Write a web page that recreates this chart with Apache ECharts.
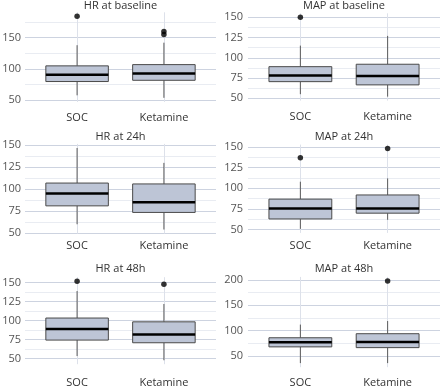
<!DOCTYPE html>
<html>
<head>
<meta charset="utf-8">
<script src="https://cdn.jsdelivr.net/npm/echarts@6/dist/echarts.min.js"></script>
<style>
  html, body { margin: 0; padding: 0; background: #fff; }
  #chart { width: 440px; height: 388px; }
</style>
</head>
<body>
<div id="chart"></div>
<script>
const categories = ['SOC', 'Ketamine']
const panelTitles = ['HR at baseline', 'MAP at baseline', 'HR at 24h', 'MAP at 24h', 'HR at 48h', 'MAP at 48h']

// box values per group: [lower whisker, Q1, median, Q3, upper whisker]
const hrBaselineBox = [[58, 80, 91, 105, 138], [54, 82, 93, 107, 142]]
const mapBaselineBox = [[55, 70.5, 78, 89, 115], [52, 66.5, 77.5, 92, 127]]
const hr24Box = [[60, 81, 95, 107, 147], [54, 73.5, 85, 106, 130]]
const map24Box = [[51, 63, 75.5, 87, 108], [62, 70, 75.5, 92, 112]]
const hr48Box = [[53.5, 74.5, 89, 103.5, 139], [48, 71, 82, 98.5, 122]]
const map48Box = [[36, 68, 77, 86, 112], [36, 66.5, 77.5, 94, 119]]

// outliers: [group index, value]
const hrBaselineOut = [[0, 184], [1, 160], [1, 155]]
const mapBaselineOut = [[0, 150]]
const hr24Out = []
const map24Out = [[0, 137], [1, 148]]
const hr48Out = [[0, 152], [1, 148]]
const map48Out = [[1, 198]]

// y tick labels (major) and minor grid values
const hrBaselineTicks = [50, 100, 150]
const hrBaselineMinor = [75, 125, 175]
const quarterTicks = [50, 75, 100, 125, 150]
const quarterMinor = [62.5, 87.5, 112.5, 137.5]
const map48Ticks = [50, 100, 150, 200]
const map48Minor = [75, 125, 175]

// y ranges (data extent + 5%)
const yRanges = [[47.5, 190.5], [47.1, 154.9], [49.35, 151.65], [46.15, 152.85], [42.8, 157.2], [27.9, 206.1]]

const boxes = [hrBaselineBox, mapBaselineBox, hr24Box, map24Box, hr48Box, map48Box]
const outliers = [hrBaselineOut, mapBaselineOut, hr24Out, map24Out, hr48Out, map48Out]
const majorTicks = [hrBaselineTicks, quarterTicks, quarterTicks, quarterTicks, quarterTicks, map48Ticks]
const minorTicks = [hrBaselineMinor, quarterMinor, quarterMinor, quarterMinor, quarterMinor, map48Minor]

// panel rects [left, top, width, height] and label offsets
const rects = [
  [25, 12.3, 191, 89.6], [248, 13.3, 192, 87.3],
  [25, 143.9, 191, 89.7], [248, 144.6, 192, 88.3],
  [25, 277.2, 191, 87], [248, 276.9, 192, 90.3]
]
const xLabelMargins = [10, 11, 6.7, 7.5, 13.5, 10.5]
const yLabelMargins = [4, 5, 4, 5, 4, 5]
const titleTops = [0, 0, 131, 131, 263, 263]

const FONT = '"Open Sans", "Liberation Sans", Arial, sans-serif'

const chart = echarts.init(document.getElementById('chart'), null, { renderer: 'canvas' })

const grid = []
const xAxis = []
const yAxis = []
const series = []
const title = []

rects.forEach((r, i) => {
  grid.push({ left: r[0], top: r[1], width: r[2], height: r[3], containLabel: false, outerBoundsMode: 'none' })
  title.push({
    text: panelTitles[i],
    left: r[0] + r[2] / 2,
    top: titleTops[i],
    textAlign: 'center',
    padding: 0,
    textStyle: { fontSize: 11, fontWeight: 'normal', color: '#333', fontFamily: FONT }
  })
  xAxis.push({
    type: 'value',
    gridIndex: i,
    min: -0.6,
    max: 1.6,
    axisLine: { show: false },
    axisTick: { show: false, customValues: [0, 1] },
    axisLabel: {
      customValues: [0, 1],
      formatter: v => categories[Math.round(v)],
      margin: xLabelMargins[i],
      fontSize: 11,
      color: '#333',
      fontFamily: FONT
    },
    splitLine: { show: true, lineStyle: { color: '#dde1ea', width: 1 } }
  })
  yAxis.push({
    type: 'value',
    gridIndex: i,
    min: yRanges[i][0],
    max: yRanges[i][1],
    axisLine: { show: false },
    axisTick: { show: false, customValues: majorTicks[i] },
    axisLabel: {
      customValues: majorTicks[i],
      margin: yLabelMargins[i],
      fontSize: 11,
      color: '#555',
      fontFamily: FONT
    },
    splitLine: { show: true, lineStyle: { color: '#cdd3e0', width: 1 } }
  })
  yAxis.push({
    type: 'value',
    gridIndex: i,
    min: yRanges[i][0],
    max: yRanges[i][1],
    axisLine: { show: false },
    axisTick: { show: false, customValues: minorTicks[i] },
    axisLabel: { show: false },
    splitLine: { show: true, lineStyle: { color: '#e9ecf2', width: 1 } }
  })
  series.push({
    type: 'custom',
    xAxisIndex: i,
    yAxisIndex: 2 * i,
    data: boxes[i].map((b, j) => [j].concat(b)),
    encode: { x: 0, y: [1, 2, 3, 4, 5] },
    z: 3,
    renderItem(params, api) {
      const x = api.value(0)
      const pMin = api.coord([x, api.value(1)])
      const pQ1 = api.coord([x, api.value(2)])
      const pMed = api.coord([x, api.value(3)])
      const pQ3 = api.coord([x, api.value(4)])
      const pMax = api.coord([x, api.value(5)])
      const half = api.size([0.72, 0])[0] / 2
      const whisker = { stroke: '#5a5a5a', lineWidth: 1 }
      return {
        type: 'group',
        children: [
          { type: 'line', shape: { x1: pMin[0], y1: pMin[1], x2: pQ1[0], y2: pQ1[1] }, style: whisker },
          { type: 'line', shape: { x1: pQ3[0], y1: pQ3[1], x2: pMax[0], y2: pMax[1] }, style: whisker },
          {
            type: 'rect',
            shape: { x: pQ3[0] - half, y: pQ3[1], width: half * 2, height: pQ1[1] - pQ3[1] },
            style: { fill: '#bdc5d6', stroke: '#4a4a4a', lineWidth: 1 }
          },
          {
            type: 'line',
            shape: { x1: pMed[0] - half, y1: pMed[1], x2: pMed[0] + half, y2: pMed[1] },
            style: { stroke: '#000', lineWidth: 2.5 }
          }
        ]
      }
    }
  })
  series.push({
    type: 'scatter',
    xAxisIndex: i,
    yAxisIndex: 2 * i,
    data: outliers[i],
    symbolSize: 5.5,
    itemStyle: { color: '#000' },
    z: 4
  })
})

chart.setOption({
  animation: false,
  backgroundColor: '#fff',
  title: title,
  grid: grid,
  xAxis: xAxis,
  yAxis: yAxis,
  series: series
})
</script>
</body>
</html>
